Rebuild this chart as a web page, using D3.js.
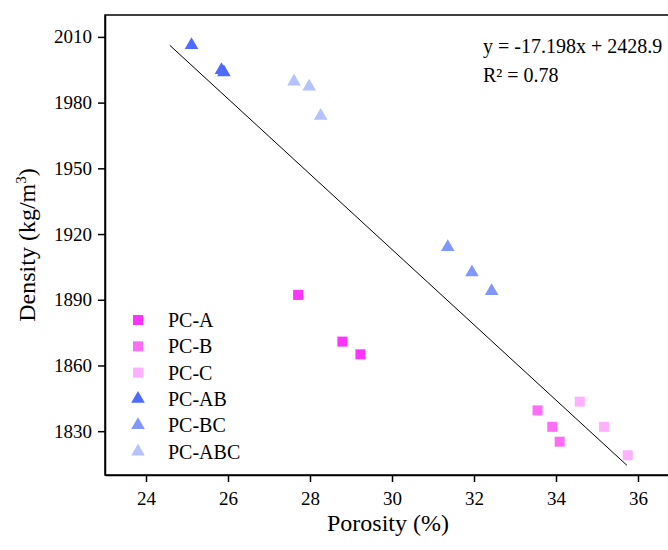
<!DOCTYPE html>
<html>
<head>
<meta charset="utf-8">
<script src="https://cdn.jsdelivr.net/npm/d3@7"></script>
<style>
  body { margin: 0; background: #fff; }
  svg { display: block; overflow: hidden; }
  text { font-family: "Liberation Serif", "Times New Roman", serif; fill: #000; }
</style>
</head>
<body>
<div id="chart"></div>
<script>
// data: porosity (%) and density (kg/m3)
const seriesNames = ['PC-A', 'PC-B', 'PC-C', 'PC-AB', 'PC-BC', 'PC-ABC'];
const seriesColors = ['#ff33ff', '#ff6cf5', '#ffb0ff', '#4d6bff', '#8296ff', '#b4c2ff'];
const seriesShapes = ['square', 'square', 'square', 'triangle', 'triangle', 'triangle'];

const pcA_x = [27.71, 28.79, 29.23];
const pcA_y = [1892.2, 1870.9, 1865.1];
const pcB_x = [33.55, 33.91, 34.09];
const pcB_y = [1839.5, 1832.0, 1825.2];
const pcC_x = [34.58, 35.17, 35.75];
const pcC_y = [1843.5, 1832.0, 1819.0];
const pcAB_x = [25.11, 25.84, 25.90];
const pcAB_y = [2006.3, 1994.8, 1993.8];
const pcBC_x = [31.36, 31.95, 32.43];
const pcBC_y = [1914.0, 1902.5, 1894.0];
const pcABC_x = [27.61, 27.98, 28.26];
const pcABC_y = [1989.6, 1987.3, 1974.0];

const seriesX = [pcA_x, pcB_x, pcC_x, pcAB_x, pcBC_x, pcABC_x];
const seriesY = [pcA_y, pcB_y, pcC_y, pcAB_y, pcBC_y, pcABC_y];

// linear fit y = slope * x + intercept
const fitSlope = -17.198;
const fitIntercept = 2428.9;
const fitRange = [24.58, 35.73];
const fitLabels = ['y = -17.198x + 2428.9', 'R² = 0.78'];

const xTicks = [24, 26, 28, 30, 32, 34, 36];
const yTicks = [1830, 1860, 1890, 1920, 1950, 1980, 2010];

const width = 668, height = 550;
const plotLeft = 105, plotRight = 679, plotTop = 15, plotBottom = 475;
const serif = '"Liberation Serif", "Times New Roman", serif';

const svg = d3.select('#chart').append('svg')
    .attr('width', width)
    .attr('height', height)
    .attr('font-family', serif);

const x = d3.scaleLinear().domain([23, 37]).range([plotLeft, plotRight]);
const y = d3.scaleLinear().domain([1810, 2020]).range([plotBottom, plotTop]);

// frame
svg.append('rect')
   .attr('x', plotLeft).attr('y', plotTop)
   .attr('width', plotRight - plotLeft).attr('height', plotBottom - plotTop)
   .attr('fill', 'none').attr('stroke', '#000').attr('stroke-width', 1.5);

// axes
const xAxis = svg.append('g')
    .attr('transform', `translate(0,${plotBottom})`)
    .call(d3.axisBottom(x).tickValues(xTicks).tickFormat(d3.format('d'))
            .tickSize(7).tickPadding(10).tickSizeOuter(0));
const yAxis = svg.append('g')
    .attr('transform', `translate(${plotLeft},0)`)
    .call(d3.axisLeft(y).tickValues(yTicks).tickFormat(d3.format('d'))
            .tickSize(7).tickPadding(6).tickSizeOuter(0));

[xAxis, yAxis].forEach(g => {
    g.attr('font-family', serif).attr('font-size', 19);
    g.select('.domain').attr('stroke-width', 1.5);
    g.selectAll('.tick line').attr('stroke-width', 1.5);
    g.selectAll('.tick text').attr('fill', '#000');
});

// axis titles
svg.append('text')
   .attr('x', (plotLeft + plotRight) / 2 - 4)
   .attr('y', 531)
   .attr('text-anchor', 'middle')
   .style('font-size', '24px')
   .text('Porosity (%)');

const yTitle = svg.append('text')
   .attr('transform', `translate(35,${(plotTop + plotBottom) / 2}) rotate(-90)`)
   .attr('text-anchor', 'middle')
   .style('font-size', '24px');
yTitle.append('tspan').text('Density (kg/m');
yTitle.append('tspan').attr('dy', -9).style('font-size', '15px').text('3');
yTitle.append('tspan').attr('dy', 9).text(')');

// fit line
const fitLine = d3.line()
    .x(d => x(d))
    .y(d => y(fitSlope * d + fitIntercept));
svg.append('path')
   .attr('d', fitLine(fitRange))
   .attr('fill', 'none')
   .attr('stroke', '#000')
   .attr('stroke-width', 1);

// markers
const symbolFor = shape => d3.symbol()
    .type(shape === 'square' ? d3.symbolSquare : d3.symbolTriangle)
    .size(shape === 'square' ? 100 : 80)();

seriesNames.forEach((name, i) => {
    const pts = seriesX[i].map((v, j) => [v, seriesY[i][j]]);
    svg.append('g').selectAll('path')
       .data(pts)
       .join('path')
       .attr('d', symbolFor(seriesShapes[i]))
       .attr('transform', d => `translate(${x(d[0])},${y(d[1])})`)
       .attr('fill', seriesColors[i]);
});

// legend
const legend = svg.append('g');
seriesNames.forEach((name, i) => {
    const ly = 320 + i * 26.3;
    legend.append('path')
          .attr('d', symbolFor(seriesShapes[i]))
          .attr('transform', `translate(138,${ly})`)
          .attr('fill', seriesColors[i]);
    legend.append('text')
          .attr('x', 168)
          .attr('y', ly + 7)
          .style('font-size', '20px')
          .text(name);
});

// fit equation
fitLabels.forEach((t, i) => {
    svg.append('text')
       .attr('x', 483)
       .attr('y', 53 + i * 28.5)
       .style('font-size', '20px')
       .text(t);
});
</script>
</body>
</html>
